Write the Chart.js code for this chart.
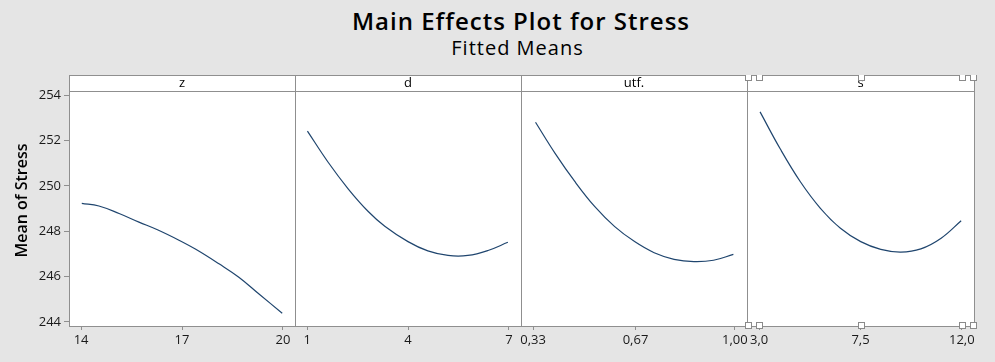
<!DOCTYPE html>
<html>
<head>
<meta charset="utf-8">
<script src="https://cdn.jsdelivr.net/npm/chart.js@4/dist/chart.umd.min.js"></script>
<style>
  html, body { margin: 0; padding: 0; }
  body { width: 995px; height: 362px; background: #e5e5e5; overflow: hidden; }
  #wrap { position: relative; width: 995px; height: 362px; font-family: "Open Sans", sans-serif; }
  #title { position: absolute; left: 0; width: 1042px; top: 6px; text-align: center; font-size: 24px; letter-spacing: 1px; font-weight: 600; color: #000; line-height: 30px; }
  #subtitle { position: absolute; left: 0; width: 1035px; top: 36px; text-align: center; font-size: 20px; letter-spacing: 1px; font-weight: 400; color: #000; line-height: 24px; }
  canvas { position: absolute; top: 75px; }
</style>
</head>
<body>
<div id="wrap">
  <div id="title">Main Effects Plot for Stress</div>
  <div id="subtitle">Fitted Means</div>
  <canvas id="c0" width="315" height="287" style="left:0px"></canvas>
  <canvas id="c1" width="266" height="287" style="left:275px"></canvas>
  <canvas id="c2" width="266" height="287" style="left:501px"></canvas>
  <canvas id="c3" width="267" height="287" style="left:727px"></canvas>
</div>
<script>
// ---- data ----
const factorNames = ['z', 'd', 'utf.', 's'];

const zX     = [14.02, 14.53, 15.13, 15.72, 16.27, 16.91, 17.41, 18.10, 18.69, 19.29, 19.98];
const zMean  = [249.23, 249.11, 248.78, 248.40, 248.06, 247.60, 247.20, 246.56, 245.97, 245.23, 244.38];

const dX     = [1.01, 1.62, 2.22, 2.81, 3.31, 4.00, 4.59, 5.19, 5.78, 6.38, 6.97];
const dMean  = [252.41, 251.05, 249.87, 248.88, 248.22, 247.54, 247.13, 246.93, 246.93, 247.15, 247.51];

const utfX    = [0.338, 0.403, 0.469, 0.535, 0.601, 0.667, 0.732, 0.798, 0.864, 0.929, 0.995];
const utfMean = [252.80, 251.43, 250.18, 249.08, 248.20, 247.54, 247.05, 246.76, 246.66, 246.72, 246.98];

const sX     = [3.04, 3.94, 4.83, 5.72, 6.61, 7.51, 8.40, 9.29, 10.18, 11.08, 11.97];
const sMean  = [253.26, 251.62, 250.18, 249.01, 248.13, 247.54, 247.20, 247.08, 247.22, 247.69, 248.46];

const zTicks   = [14, 17, 20];         const zTickLabels   = ['14', '17', '20'];
const dTicks   = [1, 4, 7];            const dTickLabels   = ['1', '4', '7'];
const utfTicks = [0.33, 0.67, 1.00];   const utfTickLabels = ['0,33', '0,67', '1,00'];
const sTicks   = [3, 7.5, 12];         const sTickLabels   = ['3,0', '7,5', '12,0'];

const yTicks = [244, 246, 248, 250, 252, 254];
const yMin = 243.82, yMax = 254.18;
const yTitle = 'Mean of Stress';

// ---- build charts ----
const panels = [
  { id: 'c0', name: factorNames[0], xs: zX,   ys: zMean,   ticks: zTicks,   labels: zTickLabels,   showY: true,  handles: false },
  { id: 'c1', name: factorNames[1], xs: dX,   ys: dMean,   ticks: dTicks,   labels: dTickLabels,   showY: false, handles: false },
  { id: 'c2', name: factorNames[2], xs: utfX, ys: utfMean, ticks: utfTicks, labels: utfTickLabels, showY: false, handles: false },
  { id: 'c3', name: factorNames[3], xs: sX,   ys: sMean,   ticks: sTicks,   labels: sTickLabels,   showY: false, handles: true  }
];

const HEADER = 16;
const BORDER = '#8f8f8f';
const FONT = '"Open Sans", sans-serif';

const panelPlugin = {
  id: 'panelFrame',
  beforeDraw(chart, args, opts) {
    const a = chart.chartArea, ctx = chart.ctx;
    ctx.save();
    ctx.fillStyle = '#ffffff';
    ctx.fillRect(a.left, a.top - HEADER, a.right - a.left, a.bottom - a.top + HEADER);
    ctx.restore();
  },
  afterDraw(chart, args, opts) {
    const a = chart.chartArea, ctx = chart.ctx;
    const L = Math.round(a.left) + 0.5, R = Math.round(a.right) + 0.5;
    const T = Math.round(a.top) + 0.5, B = Math.round(a.bottom) + 0.5;
    ctx.save();
    ctx.strokeStyle = BORDER;
    ctx.lineWidth = 1;
    ctx.strokeRect(L, T - HEADER, R - L, B - T + HEADER);
    ctx.beginPath(); ctx.moveTo(L, T); ctx.lineTo(R, T); ctx.stroke();
    ctx.fillStyle = '#000';
    ctx.font = '13px ' + FONT;
    ctx.textAlign = 'center';
    ctx.textBaseline = 'middle';
    ctx.fillText(opts.name, (a.left + a.right) / 2, a.top - HEADER / 2 + 0.5);
    if (opts.yTitle) {
      ctx.save();
      ctx.translate(22, (a.top + a.bottom) / 2 - 8);
      ctx.rotate(-Math.PI / 2);
      ctx.font = '600 16px ' + FONT;
      ctx.fillText(opts.yTitle, 0, 0);
      ctx.restore();
    }
    if (opts.handles) {
      const xs = chart.scales.x;
      const hx = [a.left + 1, ...xs.ticks.map(t => xs.getPixelForValue(t.value)), a.right - 1];
      const hy = [a.top - HEADER + 2, a.bottom - 1.5];
      ctx.fillStyle = '#fff';
      ctx.strokeStyle = '#8a8a8a';
      hy.forEach(y => hx.forEach(x => {
        const px = Math.round(x - 3) + 0.5, py = Math.round(y - 3) + 0.5;
        ctx.fillRect(px, py, 6, 6);
        ctx.strokeRect(px, py, 6, 6);
      }));
    }
    ctx.restore();
  }
};

panels.forEach(p => {
  const span = p.ticks[p.ticks.length - 1] - p.ticks[0];
  const pad = span * 0.06;
  new Chart(document.getElementById(p.id), {
    type: 'line',
    data: {
      datasets: [{
        data: p.xs.map((x, i) => ({ x: x, y: p.ys[i] })),
        borderColor: '#1f456e',
        borderWidth: 1.2,
        pointRadius: 0,
        tension: 0.4,
        fill: false
      }]
    },
    plugins: [panelPlugin],
    options: {
      responsive: false,
      animation: false,
      devicePixelRatio: 1,
      layout: { padding: { top: HEADER, bottom: 0, left: p.showY ? 0 : 20, right: 20 } },
      plugins: {
        legend: { display: false },
        tooltip: { enabled: false },
        title: { display: false },
        panelFrame: { name: p.name, handles: p.handles, yTitle: p.showY ? yTitle : null }
      },
      scales: {
        x: {
          type: 'linear',
          min: p.ticks[0] - pad,
          max: p.ticks[p.ticks.length - 1] + pad,
          afterBuildTicks: s => { s.ticks = p.ticks.map(v => ({ value: v })); },
          afterFit: s => { s.height = 36; },
          ticks: {
            autoSkip: false, maxRotation: 0, padding: 2,
            color: '#1a1a1a', font: { family: FONT, size: 13 },
            callback: (v, i) => p.labels[i]
          },
          grid: { display: true, drawOnChartArea: false, drawTicks: true, tickLength: 4, color: BORDER },
          border: { display: false }
        },
        y: {
          display: p.showY,
          min: yMin, max: yMax,
          afterBuildTicks: s => { s.ticks = yTicks.map(v => ({ value: v })); },
          afterFit: s => { s.width = p.showY ? 69 : 0; },
          ticks: { padding: 3, color: '#1a1a1a', font: { family: FONT, size: 13 } },
          grid: { display: true, drawOnChartArea: false, drawTicks: true, tickLength: 5, color: BORDER },
          border: { display: false },
          title: { display: false }
        }
      }
    }
  });
});
</script>
</body>
</html>
